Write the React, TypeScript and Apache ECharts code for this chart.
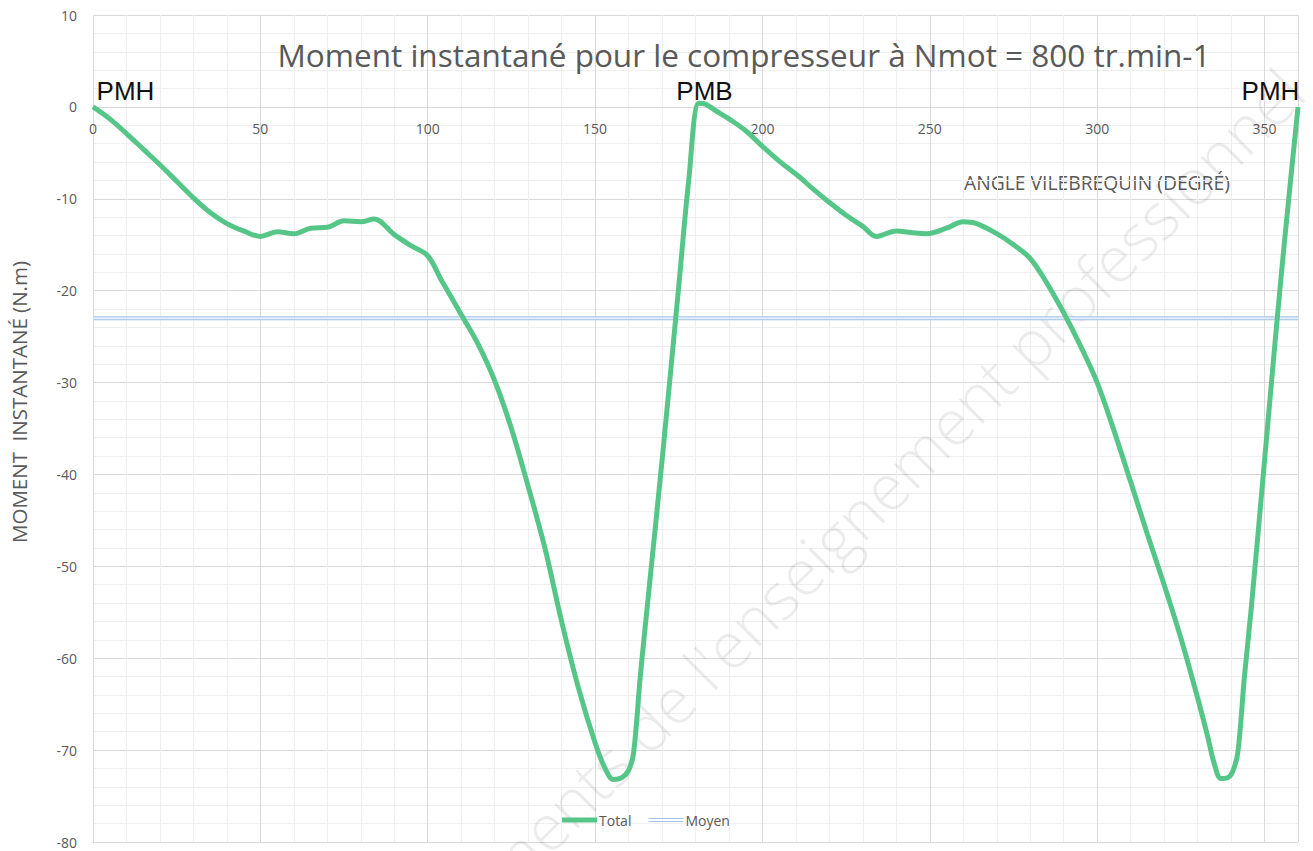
import React, { useEffect, useRef } from 'react';
import * as echarts from 'echarts';

// Angle vilebrequin (degré)
const angles = [
  0, 5, 10, 15, 20, 25, 30, 35, 40, 45, 50, 55, 60, 65, 70, 75, 80, 84, 90, 95,
  100, 104, 110, 115, 120, 125, 130, 135, 140, 145, 150, 153, 155.5, 158, 160,
  161.5, 163.5, 165.5, 170, 175, 178, 181, 183, 186, 190, 195, 200, 205, 211,
  215, 220, 225, 230, 234, 240, 245, 249, 255, 260, 264, 270, 275, 280, 285,
  290, 295, 300, 305, 310, 315, 320, 325, 330, 333, 335, 337, 339, 340.4, 342,
  344, 346, 350, 353.3, 356, 360,
];
// Moment instantané total (N.m)
const moments = [
  0, -1.3, -2.9, -4.6, -6.3, -8.1, -9.9, -11.5, -12.7, -13.5, -14.1, -13.6,
  -13.8, -13.2, -13.1, -12.4, -12.5, -12.2, -13.9, -15.1, -16.2, -18.8, -22.6,
  -25.8, -29.8, -35.0, -41.3, -48.0, -56.0, -63.2, -69.2, -72.0, -73.2, -73.0,
  -72.2, -70.3, -62.0, -54.7, -38.5, -19.5, -7.9, 0.4, 0.3, -0.4, -1.3, -2.6,
  -4.3, -5.9, -7.6, -8.9, -10.4, -11.8, -13.0, -14.1, -13.5, -13.7, -13.8,
  -13.2, -12.5, -12.7, -13.8, -15.0, -16.5, -19.2, -22.4, -26.0, -30.0, -35.2,
  -40.8, -46.5, -52.0, -57.8, -64.3, -68.5, -71.5, -73.1, -73.0, -72.4, -70.3,
  -62.0, -54.7, -38.5, -25.0, -14.5, 0,
];
// Moment moyen (N.m)
const moyenAngles = [0, 360];
const moyenValues = [-23, -23];

const titleText = 'Moment instantané pour le compresseur à Nmot = 800 tr.min-1';
const xName = 'ANGLE VILEBREQUIN (DEGRÉ)';
const yName = 'MOMENT  INSTANTANÉ (N.m)';
const watermark = "éléments de l'enseignement professionnel";
const pointLabels = [
  { name: 'PMH', angle: 0, value: 0 },
  { name: 'PMB', angle: 180, value: 0 },
  { name: 'PMH', angle: 360, value: 0 },
];

const GREY = '#595959';
const FONT = 'Open Sans, DejaVu Sans, sans-serif';

export default function App() {
  const ref = useRef<HTMLDivElement>(null);

  useEffect(() => {
    document.body.style.margin = '0';
    if (!ref.current) return;
    const chart = echarts.init(ref.current, undefined, { renderer: 'svg' });

    const totalData = angles.map((a, i) => [a, moments[i]]);
    const moyenData = moyenAngles.map((a, i) => [a, moyenValues[i]]);
    const labelOffsets = [[32.5, 0], [9, 0], [-27.5, 0]];

    chart.setOption({
      animation: false,
      backgroundColor: '#ffffff',
      title: {
        text: titleText,
        left: 739,
        textAlign: 'center',
        top: 33,
        textStyle: { fontSize: 31.5, fontWeight: 'normal', color: GREY, fontFamily: FONT },
      },
      grid: { left: 93, right: 15, top: 15, bottom: 9, containLabel: false, outerBoundsMode: 'none' },
      legend: {
        data: [
          { name: 'Total', icon: 'rect' },
          { name: 'Moyen', icon: 'path://M0,0H35V1H0Z M0,3H35V4H0Z' },
        ],
        left: 557,
        top: 808,
        itemWidth: 35,
        itemHeight: 5,
        itemGap: 17,
        textStyle: { color: GREY, fontSize: 14, fontFamily: FONT, padding: [0, 0, 0, -3] },
      },
      xAxis: {
        type: 'value',
        position: 'top',
        offset: -92,
        min: 0,
        max: 360,
        interval: 50,
        axisLine: { show: true, onZero: false, lineStyle: { color: '#d9d9d9', width: 1 } },
        axisTick: { show: false },
        axisLabel: {
          inside: true,
          color: GREY,
          fontSize: 14,
          fontFamily: FONT,
          margin: 14,
          showMaxLabel: false,
        },
        splitLine: { show: true, lineStyle: { color: '#d9d9d9', width: 1 } },
        minorTick: { show: false, splitNumber: 5 },
        minorSplitLine: { show: true, lineStyle: { color: '#efefef', width: 1 } },
      },
      yAxis: {
        type: 'value',
        min: -80,
        max: 10,
        interval: 10,
        axisLine: { show: false, onZero: false },
        axisTick: { show: false },
        axisLabel: { color: GREY, fontSize: 14, fontFamily: FONT, margin: 16 },
        splitLine: { show: true, lineStyle: { color: '#d9d9d9', width: 1 } },
        minorTick: { show: false, splitNumber: 5 },
        minorSplitLine: { show: true, lineStyle: { color: '#efefef', width: 1 } },
      },
      graphic: [
        {
          type: 'text',
          x: 1292,
          y: 80,
          rotation: (45 * Math.PI) / 180,
          z: 1,
          silent: true,
          style: {
            text: watermark,
            fill: 'rgba(0,0,0,0.08)',
            fontSize: 64,
            fontWeight: 300,
            fontFamily: FONT,
            align: 'right',
            verticalAlign: 'middle',
          },
        },
        {
          type: 'text',
          x: 964,
          y: 182,
          style: {
            text: xName,
            fill: GREY,
            fontSize: 19.3,
            fontFamily: FONT,
            align: 'left',
            verticalAlign: 'middle',
          },
        },
        {
          type: 'text',
          x: 19,
          y: 402,
          rotation: Math.PI / 2,
          style: {
            text: yName,
            fill: GREY,
            fontSize: 20.5,
            fontFamily: FONT,
            align: 'center',
            verticalAlign: 'middle',
          },
        },
      ],
      series: [
        {
          name: 'Total',
          type: 'line',
          data: totalData,
          smooth: 0.35,
          showSymbol: false,
          symbol: 'none',
          z: 3,
          lineStyle: { color: '#56c688', width: 5 },
          itemStyle: { color: '#56c688' },
          markPoint: {
            symbol: 'circle',
            symbolSize: 0,
            silent: true,
            data: pointLabels.map((p, i) => ({
              name: p.name,
              coord: [p.angle, p.value],
              label: {
                show: true,
                formatter: p.name,
                position: 'top',
                distance: 3,
                offset: labelOffsets[i],
                color: '#111111',
                fontSize: 26,
                fontFamily: 'Liberation Sans, Arial, sans-serif',
              },
            })),
          },
        },
        {
          name: 'Moyen',
          type: 'line',
          data: moyenData,
          showSymbol: false,
          symbol: 'none',
          z: 2,
          lineStyle: { color: '#9fc3e7', width: 4 },
          itemStyle: { color: '#9fc3e7' },
        },
        {
          name: 'MoyenInner',
          type: 'line',
          data: moyenData,
          showSymbol: false,
          symbol: 'none',
          silent: true,
          z: 2,
          lineStyle: { color: '#e4eefa', width: 2 },
          tooltip: { show: false },
        },
      ],
    });

    return () => chart.dispose();
  }, []);

  return <div ref={ref} style={{ width: 1313, height: 851 }} />;
}
